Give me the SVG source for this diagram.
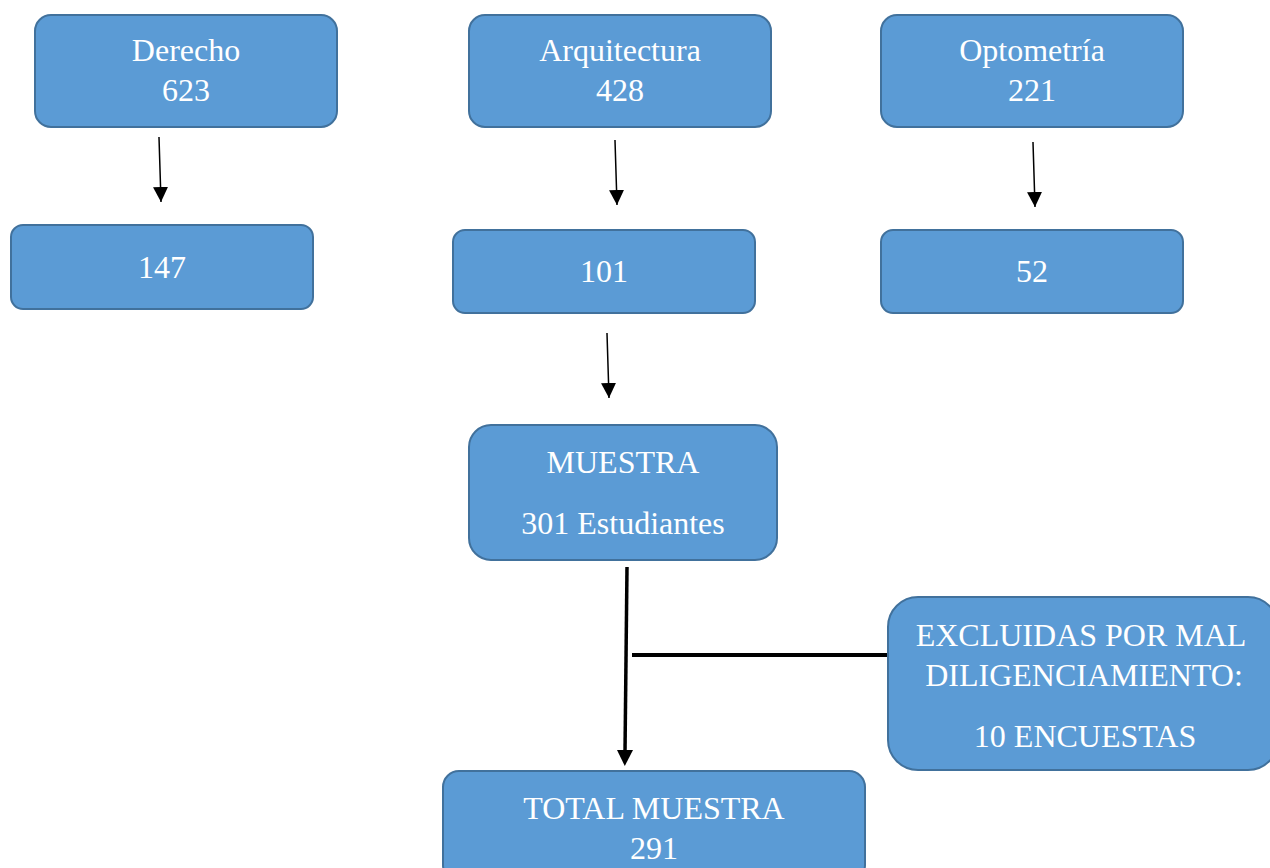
<svg xmlns="http://www.w3.org/2000/svg" width="1270" height="868" viewBox="0 0 1270 868">
<style>
.box{fill:#5B9BD5;stroke:#41719C;stroke-width:2}
.t{font-family:"Liberation Serif","Times New Roman",serif;font-size:32px;fill:#FFFFFF;text-anchor:middle}
.c{stroke:#000;fill:none}
</style>
<defs>
<marker id="ah" viewBox="0 0 10 10" refX="10" refY="5" markerWidth="15" markerHeight="15" markerUnits="userSpaceOnUse" orient="auto">
<path d="M0,0 L10,5 L0,10 z" fill="#000"/>
</marker>
</defs>
<rect width="1270" height="868" fill="#fff"/>
<g id="connectors">
<line class="c" x1="159" y1="137" x2="161" y2="202" stroke-width="1.5" marker-end="url(#ah)"/>
<line class="c" x1="615" y1="140" x2="617" y2="205" stroke-width="1.5" marker-end="url(#ah)"/>
<line class="c" x1="1033" y1="142" x2="1035" y2="207" stroke-width="1.5" marker-end="url(#ah)"/>
<line class="c" x1="607" y1="333" x2="609" y2="398" stroke-width="1.5" marker-end="url(#ah)"/>
<line class="c" x1="627" y1="567" x2="625" y2="752"  stroke-width="3.5"/>
<path d="M617,750 L633,750 L624.8,766 z" fill="#000"/>
<line class="c" x1="632" y1="655" x2="889" y2="655" stroke-width="4"/>
</g>
<g id="n-derecho">
<rect class="box" x="35" y="15" width="302" height="112" rx="16"/>
<text class="t" x="186" y="61">Derecho</text>
<text class="t" x="186" y="101">623</text>
</g>
<g id="n-arquitectura">
<rect class="box" x="469" y="15" width="302" height="112" rx="16"/>
<text class="t" x="620" y="61">Arquitectura</text>
<text class="t" x="620" y="101">428</text>
</g>
<g id="n-optometria">
<rect class="box" x="881" y="15" width="302" height="112" rx="16"/>
<text class="t" x="1032" y="61">Optometría</text>
<text class="t" x="1032" y="101">221</text>
</g>
<g id="n-147">
<rect class="box" x="11" y="225" width="302" height="84" rx="12"/>
<text class="t" x="162" y="278">147</text>
</g>
<g id="n-101">
<rect class="box" x="453" y="230" width="302" height="83" rx="12"/>
<text class="t" x="604" y="282">101</text>
</g>
<g id="n-52">
<rect class="box" x="881" y="230" width="302" height="83" rx="12"/>
<text class="t" x="1032" y="282">52</text>
</g>
<g id="n-muestra">
<rect class="box" x="469" y="425" width="308" height="135" rx="22"/>
<text class="t" x="623" y="473">MUESTRA</text>
<text class="t" x="623" y="534">301 Estudiantes</text>
</g>
<g id="n-excluidas">
<rect class="box" x="888" y="597" width="390" height="173" rx="30"/>
<text class="t" x="1081" y="646">EXCLUIDAS POR MAL</text>
<text class="t" x="1084" y="686">DILIGENCIAMIENTO:</text>
<text class="t" x="1085" y="747">10 ENCUESTAS</text>
</g>
<g id="n-total">
<rect class="box" x="443" y="771" width="422" height="110" rx="16"/>
<text class="t" x="654" y="819">TOTAL MUESTRA</text>
<text class="t" x="654" y="859">291</text>
</g>
</svg>
